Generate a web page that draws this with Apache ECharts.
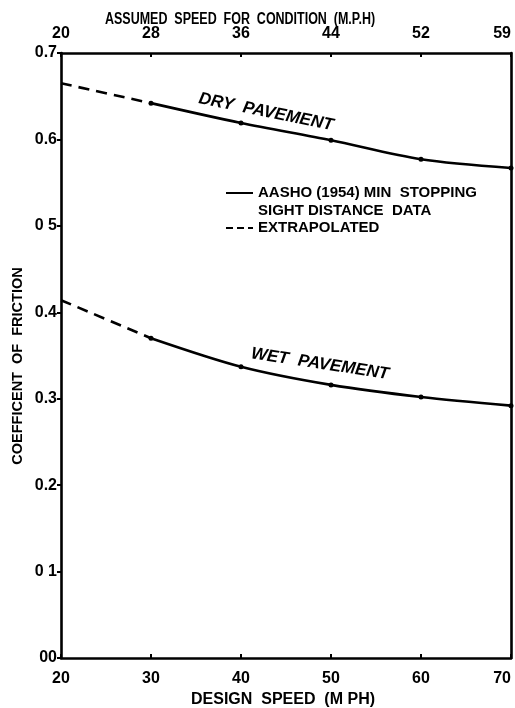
<!DOCTYPE html>
<html>
<head>
<meta charset="utf-8">
<script src="https://cdn.jsdelivr.net/npm/echarts@6/dist/echarts.min.js"></script>
<style>
html,body{margin:0;padding:0;background:#fff;}
#chart{width:515px;height:708px;}
</style>
</head>
<body>
<div id="chart"></div>
<script>
// ---- data ----
var designSpeeds = [20, 30, 40, 50, 60, 70];
var assumedSpeedLabels = ['20', '28', '36', '44', '52', '59'];
var yTickLabels = ['00', '0 1', '0.2', '0.3', '0.4', '0 5', '0.6', '0.7'];
var dryValues = [0.665, 0.642, 0.619, 0.599, 0.577, 0.567];
var wetValues = [0.414, 0.370, 0.337, 0.316, 0.302, 0.292];
var extrapolatedCount = 2; // first two points (20-30 mph) are extrapolated

function pairs(xs, ys, from, to) {
  var out = [];
  for (var i = from; i < to; i++) out.push([xs[i], ys[i]]);
  return out;
}

var FONT = '"Liberation Sans", Arial, sans-serif';
var lbl = { color: '#000', fontFamily: FONT, fontWeight: 'bold', fontSize: 16 };

var chart = echarts.init(document.getElementById('chart'), null, { renderer: 'canvas' });

var solidStyle = { color: '#000', width: 2.6, type: 'solid' };
var dashStyle = { color: '#000', width: 2.6, type: [11, 7] };

var option = {
  backgroundColor: '#fff',
  animation: false,
  grid: { left: 61, right: 4, top: 53, bottom: 50, outerBoundsMode: 'none', containLabel: false },
  xAxis: [
    {
      type: 'value', position: 'bottom', min: 20, max: 70, interval: 10,
      axisLine: { show: true, onZero: false, lineStyle: { color: '#000', width: 2.6 } },
      axisTick: { show: true, inside: true, length: 4, lineStyle: { color: '#000', width: 2 } },
      axisLabel: Object.assign({ margin: 13, alignMaxLabel: 'right' }, lbl),
      splitLine: { show: false },
      name: 'DESIGN  SPEED  (M PH)', nameLocation: 'middle', nameGap: 32,
      nameTextStyle: { color: '#000', fontFamily: FONT, fontWeight: 'bold', fontSize: 16, padding: [0, 6, 0, 0] }
    },
    {
      type: 'value', position: 'top', min: 20, max: 70, interval: 10,
      axisLine: { show: true, onZero: false, lineStyle: { color: '#000', width: 2.6 } },
      axisTick: { show: true, inside: true, length: 4, lineStyle: { color: '#000', width: 2 } },
      axisLabel: Object.assign({
        margin: 11, alignMaxLabel: 'right',
        formatter: function (v) { return assumedSpeedLabels[Math.round((v - 20) / 10)]; }
      }, lbl),
      splitLine: { show: false }
    }
  ],
  yAxis: [
    {
      type: 'value', position: 'left', min: 0, max: 0.7, interval: 0.1,
      axisLine: { show: true, onZero: false, lineStyle: { color: '#000', width: 2.6 } },
      axisTick: { show: true, inside: false, length: 4, lineStyle: { color: '#000', width: 2 } },
      axisLabel: Object.assign({
        margin: 4,
        formatter: function (v) { return yTickLabels[Math.round(v * 10)]; }
      }, lbl),
      splitLine: { show: false }
    },
    {
      type: 'value', position: 'right', min: 0, max: 0.7, interval: 0.1,
      axisLine: { show: true, onZero: false, lineStyle: { color: '#000', width: 2.6 } },
      axisTick: { show: false },
      axisLabel: { show: false },
      splitLine: { show: false }
    }
  ],
  series: [
    {
      name: 'dry-extrapolated', type: 'line', smooth: 0.2, showSymbol: false,
      lineStyle: dashStyle,
      data: pairs(designSpeeds, dryValues, 0, extrapolatedCount)
    },
    {
      name: 'dry', type: 'line', smooth: 0.3, symbol: 'circle', symbolSize: 5,
      itemStyle: { color: '#000' }, lineStyle: solidStyle,
      data: pairs(designSpeeds, dryValues, extrapolatedCount - 1, designSpeeds.length)
    },
    {
      name: 'wet-extrapolated', type: 'line', smooth: 0.2, showSymbol: false,
      lineStyle: dashStyle,
      data: pairs(designSpeeds, wetValues, 0, extrapolatedCount)
    },
    {
      name: 'wet', type: 'line', smooth: 0.3, symbol: 'circle', symbolSize: 5,
      itemStyle: { color: '#000' }, lineStyle: solidStyle,
      data: pairs(designSpeeds, wetValues, extrapolatedCount - 1, designSpeeds.length)
    }
  ],
  graphic: [
    {
      type: 'text', x: 105, y: 20, scaleX: 0.78,
      style: { text: 'ASSUMED  SPEED  FOR  CONDITION  (M.P.H)', fill: '#000', font: 'bold 16px ' + FONT, verticalAlign: 'middle' }
    },
    {
      type: 'text', x: 18, y: 366, rotation: Math.PI / 2,
      style: { text: 'COEFFICENT  OF  FRICTION', fill: '#000', font: 'bold 14.5px ' + FONT, align: 'center', verticalAlign: 'middle' }
    },
    {
      type: 'text', x: 266, y: 112, rotation: -0.2,
      style: { text: 'DRY  PAVEMENT', fill: '#000', font: 'italic bold 17px ' + FONT, align: 'center', verticalAlign: 'middle' }
    },
    {
      type: 'text', x: 320, y: 364, rotation: -0.15,
      style: { text: 'WET  PAVEMENT', fill: '#000', font: 'italic bold 17px ' + FONT, align: 'center', verticalAlign: 'middle' }
    },
    {
      type: 'line', shape: { x1: 226, y1: 193, x2: 253, y2: 193 },
      style: { stroke: '#000', lineWidth: 2 }
    },
    {
      type: 'line', shape: { x1: 226, y1: 228, x2: 253, y2: 228 },
      style: { stroke: '#000', lineWidth: 2, lineDash: [7, 4] }
    },
    {
      type: 'text', x: 258, y: 193,
      style: { text: 'AASHO (1954) MIN  STOPPING', fill: '#000', font: 'bold 15px ' + FONT, verticalAlign: 'middle' }
    },
    {
      type: 'text', x: 258, y: 210.5,
      style: { text: 'SIGHT DISTANCE  DATA', fill: '#000', font: 'bold 15px ' + FONT, verticalAlign: 'middle' }
    },
    {
      type: 'text', x: 258, y: 228,
      style: { text: 'EXTRAPOLATED', fill: '#000', font: 'bold 15px ' + FONT, verticalAlign: 'middle' }
    }
  ]
};
chart.setOption(option);
</script>
</body>
</html>
